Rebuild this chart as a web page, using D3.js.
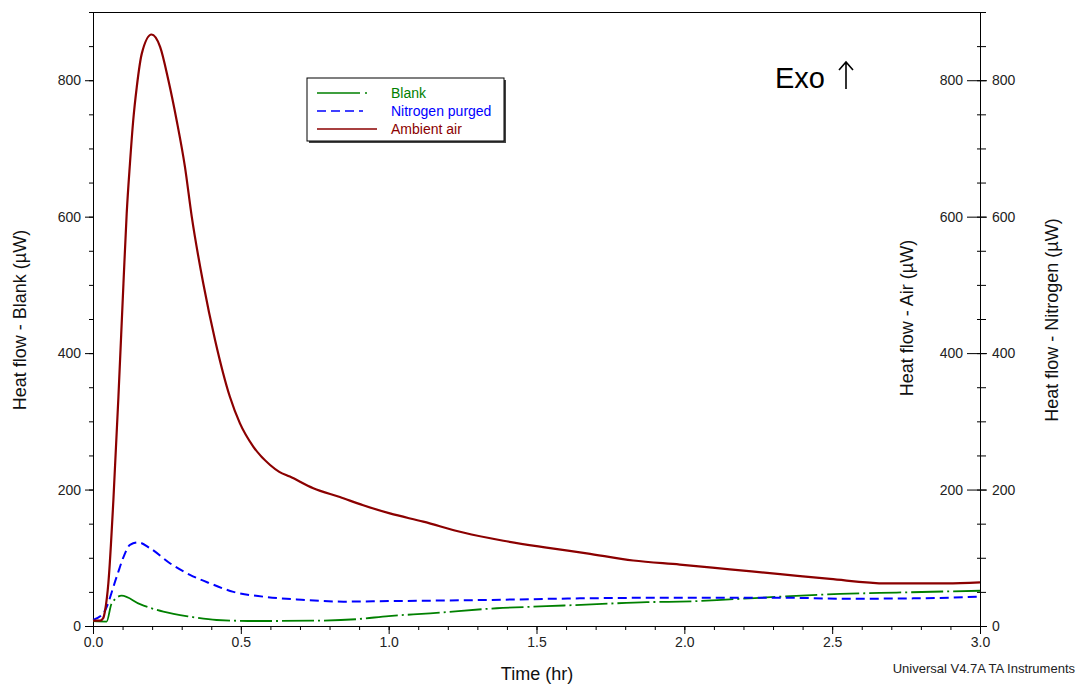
<!DOCTYPE html>
<html>
<head>
<meta charset="utf-8" />
<title>Heat flow</title>
<style type="text/css">
  html, body { margin: 0; background: #fff; }
  svg text { font-family: "Liberation Sans", Arial, sans-serif; }
  .tick text { font-size: 14px; fill: #222; font-family: "Liberation Sans", Arial, sans-serif; }
</style>
</head>
<body>
<div id="container"></div>
<script src="https://cdn.jsdelivr.net/npm/d3@7"></script>
<script>
// readings (time in hr, heat flow in uW)
var airTime = [0, 0.024, 0.035, 0.041, 0.052, 0.069, 0.086, 0.103, 0.114, 0.125, 0.136, 0.148, 0.165, 0.198,
  0.227, 0.255, 0.283, 0.311, 0.334, 0.373, 0.413, 0.463, 0.497, 0.542, 0.599, 0.63, 0.666, 0.745, 0.835, 0.914,
  1.004, 1.117, 1.252, 1.388, 1.534, 1.67, 1.827, 1.985, 2.154, 2.324, 2.493, 2.684, 2.887, 3.0];
var airFlow = [8, 8, 12, 23, 63, 185, 336, 502, 605, 678, 741, 790, 839, 867,
  849, 800, 741, 673, 600, 502, 419, 336, 297, 263, 236, 226, 219, 202, 189, 177,
  165, 153, 137, 125, 115, 106.5, 96, 90, 83, 76, 69, 62.5, 62.5, 64];

var n2Time = [0, 0.035, 0.08, 0.103, 0.125, 0.153, 0.193, 0.26, 0.328, 0.396, 0.475, 0.576, 0.689, 0.847,
  1.0, 1.309, 1.647, 1.985, 2.32, 2.55, 2.775, 3.0];
var n2Flow = [9, 18.6, 72, 101, 119, 122.5, 114, 92, 75, 62.5, 50, 43, 39, 35.7,
  36.5, 38, 40.5, 41.5, 41.5, 40, 40.5, 43];

var blankTime = [0, 0.046, 0.063, 0.097, 0.159, 0.238, 0.328, 0.418, 0.553, 0.757, 0.892, 1.0, 1.14,
  1.365, 1.534, 1.704, 1.873, 1.985, 2.154, 2.324, 2.527, 2.718, 3.0];
var blankFlow = [7, 6.5, 33, 44.5, 32, 21, 13.7, 8.8, 7.3, 7.8, 10, 14.6, 18.5,
  26, 29, 32, 35, 35.6, 39, 43, 47, 49, 51.7];

var xTicks = [0, 0.5, 1.0, 1.5, 2.0, 2.5, 3.0];
var yTicks = [0, 200, 400, 600, 800];
var legendNames = ["Blank", "Nitrogen purged", "Ambient air"];

(function() {
  var W = 1077, H = 684;
  var mLeft = 93, mRight = 980, mTop = 12, mBottom = 626;

  var svg = d3.select("#container").append("svg")
      .attr("width", W).attr("height", H);

  var x = d3.scaleLinear().domain([0, 3]).range([mLeft, mRight]);
  var y = d3.scaleLinear().domain([0, 900]).range([mBottom, mTop]);

  var minorX = d3.range(0, 3.0001, 0.1);
  var minorY = d3.range(0, 900.001, 50);

  // frame top line
  svg.append("line")
      .attr("x1", mLeft).attr("x2", mRight).attr("y1", mTop + 0.5).attr("y2", mTop + 0.5)
      .attr("stroke", "#000").attr("stroke-width", 1);

  // bottom axis
  var gx = svg.append("g").attr("transform", "translate(0," + mBottom + ")")
      .call(d3.axisBottom(x).tickValues(minorX).tickSize(4).tickFormat(""));
  gx.select(".domain").remove();
  svg.append("g").attr("transform", "translate(0," + mBottom + ")")
      .call(d3.axisBottom(x).tickValues(xTicks).tickSize(8).tickPadding(3).tickFormat(d3.format(".1f")))
      .call(function(g) { g.select(".domain").attr("d", "M" + mLeft + ",0.5H" + mRight); });

  // left axis
  var gy = svg.append("g").attr("transform", "translate(" + mLeft + ",0)")
      .call(d3.axisLeft(y).tickValues(minorY).tickSize(4).tickFormat(""));
  gy.select(".domain").remove();
  svg.append("g").attr("transform", "translate(" + mLeft + ",0)")
      .call(d3.axisLeft(y).tickValues(yTicks).tickSize(8).tickPadding(4))
      .call(function(g) { g.select(".domain").attr("d", "M0.5," + mTop + "V" + mBottom); });

  // right axes: air (labels inside) and nitrogen (labels outside)
  var gr = svg.append("g").attr("transform", "translate(" + mRight + ",0)");
  gr.call(d3.axisRight(y).tickValues(minorY).tickSize(6).tickFormat(""));
  gr.select(".domain").attr("d", "M0.5," + mTop + "V" + mBottom);
  gr.selectAll(".tick line").attr("x1", -3);
  svg.append("g").attr("transform", "translate(" + mRight + ",0)")
      .call(d3.axisLeft(y).tickValues(yTicks.slice(1)).tickSize(13).tickPadding(4))
      .call(function(g) { g.select(".domain").remove(); });
  svg.append("g").attr("transform", "translate(" + mRight + ",0)")
      .call(d3.axisRight(y).tickValues(yTicks).tickSize(7).tickPadding(5))
      .call(function(g) { g.select(".domain").remove(); });

  svg.selectAll(".tick line").attr("stroke", "#000");

  // titles
  svg.append("text")
      .attr("transform", "translate(26,320) rotate(-90)")
      .attr("text-anchor", "middle").attr("font-size", 18).attr("fill", "#111")
      .text("Heat flow - Blank (\u00b5W)");
  svg.append("text")
      .attr("transform", "translate(913,318) rotate(-90)")
      .attr("text-anchor", "middle").attr("font-size", 18).attr("fill", "#111")
      .text("Heat flow - Air (\u00b5W)");
  svg.append("text")
      .attr("transform", "translate(1058,320) rotate(-90)")
      .attr("text-anchor", "middle").attr("font-size", 18).attr("fill", "#111")
      .text("Heat flow - Nitrogen (\u00b5W)");
  svg.append("text")
      .attr("x", 537).attr("y", 680)
      .attr("text-anchor", "middle").attr("font-size", 18).attr("fill", "#111")
      .text("Time (hr)");
  svg.append("text")
      .attr("x", 1075).attr("y", 673)
      .attr("text-anchor", "end").attr("font-size", 13).attr("fill", "#222")
      .text("Universal V4.7A TA Instruments");
  svg.append("text")
      .attr("x", 775).attr("y", 88)
      .attr("font-size", 29).attr("fill", "#000")
      .text("Exo");
  // arrow drawn as a thin up arrow like the reference glyph
  svg.append("path")
      .attr("d", "M846,89V63M839,70L846,62L853,70")
      .attr("fill", "none").attr("stroke", "#000").attr("stroke-width", 1.6);

  // curves
  var series = [
    { t: blankTime, v: blankFlow, color: "#008000", dash: "32,4,2,4", width: 1.8 },
    { t: n2Time, v: n2Flow, color: "#0000ff", dash: "9,5", width: 2 },
    { t: airTime, v: airFlow, color: "#8b0000", dash: null, width: 2.2 }
  ];

  var line = d3.line()
      .x(function(d) { return x(d[0]); })
      .y(function(d) { return y(d[1]); })
      .curve(d3.curveMonotoneX);

  series.forEach(function(s) {
    var pts = s.t.map(function(t, i) { return [t, s.v[i]]; });
    svg.append("path").datum(pts)
        .attr("d", line)
        .attr("fill", "none")
        .attr("stroke", s.color)
        .attr("stroke-width", s.width)
        .attr("stroke-dasharray", s.dash)
        .attr("stroke-linejoin", "round");
  });

  // legend
  var lg = svg.append("g").attr("transform", "translate(307,78)");
  lg.append("rect").attr("x", 2).attr("y", 2).attr("width", 197).attr("height", 63).attr("fill", "#444");
  lg.append("rect").attr("x", 0).attr("y", 0).attr("width", 197).attr("height", 63)
      .attr("fill", "#fff").attr("stroke", "#000").attr("stroke-width", 1);
  var legendLen = [50, 46, 60];
  legendNames.forEach(function(name, i) {
    var s = series[i], yy = 15 + i * 18;
    lg.append("line")
        .attr("x1", 10).attr("x2", 10 + legendLen[i]).attr("y1", yy).attr("y2", yy)
        .attr("stroke", s.color).attr("stroke-width", 1.3)
        .attr("stroke-dasharray", i === 0 ? "43,5,2,4" : s.dash);
    lg.append("text")
        .attr("x", 84).attr("y", yy + 5)
        .attr("font-size", 14).attr("fill", s.color)
        .text(name);
  });
})();
</script>
</body>
</html>
